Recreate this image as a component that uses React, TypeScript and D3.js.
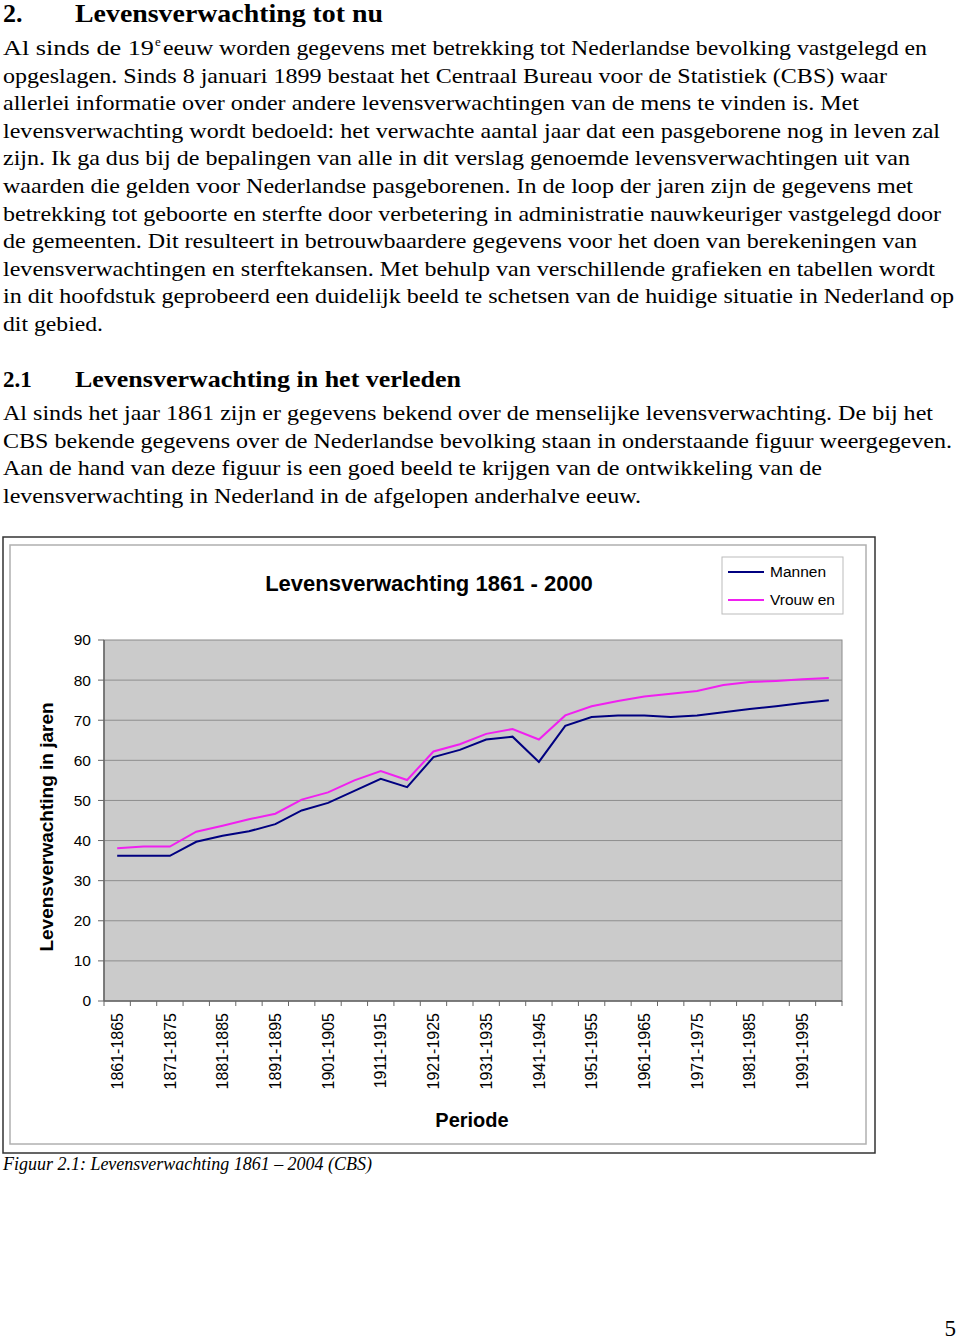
import React from "react";
import * as d3 from "d3";

// ---------- data ----------
const periods = [
  "1861-1865", "1866-1870", "1871-1875", "1876-1880", "1881-1885", "1886-1890",
  "1891-1895", "1896-1900", "1901-1905", "1906-1910", "1911-1915", "1916-1920",
  "1921-1925", "1926-1930", "1931-1935", "1936-1940", "1941-1945", "1946-1950",
  "1951-1955", "1956-1960", "1961-1965", "1966-1970", "1971-1975", "1976-1980",
  "1981-1985", "1986-1990", "1991-1995", "1996-2000",
];
const mannen = [
  36.2, 36.2, 36.2, 39.7, 41.2, 42.3, 44.1, 47.5, 49.4, 52.4, 55.4, 53.3, 60.8, 62.6,
  65.2, 65.9, 59.6, 68.6, 70.8, 71.2, 71.2, 70.8, 71.2, 72.0, 72.8, 73.5, 74.3, 75.0,
];
const vrouwen = [
  38.1, 38.5, 38.5, 42.2, 43.7, 45.3, 46.7, 50.2, 52.0, 55.0, 57.3, 55.1, 62.2, 64.0,
  66.6, 67.8, 65.2, 71.2, 73.5, 74.8, 75.9, 76.6, 77.3, 78.8, 79.5, 79.8, 80.2, 80.5,
];
const yTicks = [0, 10, 20, 30, 40, 50, 60, 70, 80, 90];
const seriesNames = ["Mannen", "Vrouw en"];
const chartTitle = "Levensverwachting 1861 - 2000";
const yTitle = "Levensverwachting in jaren";
const xTitle = "Periode";

// ---------- page text ----------
const para1 = [
  { t: "opgeslagen. Sinds 8 januari 1899 bestaat het Centraal Bureau voor de Statistiek (CBS) waar", w: 884 },
  { t: "allerlei informatie over onder andere levensverwachtingen van de mens te vinden is. Met", w: 856 },
  { t: "levensverwachting wordt bedoeld: het verwachte aantal jaar dat een pasgeborene nog in leven zal", w: 937 },
  { t: "zijn. Ik ga dus bij de bepalingen van alle in dit verslag genoemde levensverwachtingen uit van", w: 907 },
  { t: "waarden die gelden voor Nederlandse pasgeborenen. In de loop der jaren zijn de gegevens met", w: 910 },
  { t: "betrekking tot geboorte en sterfte door verbetering in administratie nauwkeuriger vastgelegd door", w: 938 },
  { t: "de gemeenten. Dit resulteert in betrouwbaardere gegevens voor het doen van berekeningen van", w: 914 },
  { t: "levensverwachtingen en sterftekansen. Met behulp van verschillende grafieken en tabellen wordt", w: 932 },
  { t: "in dit hoofdstuk geprobeerd een duidelijk beeld te schetsen van de huidige situatie in Nederland op", w: 951 },
  { t: "dit gebied.", w: 100 },
];
const para2 = [
  { t: "Al sinds het jaar 1861 zijn er gegevens bekend over de menselijke levensverwachting. De bij het", w: 930 },
  { t: "CBS bekende gegevens over de Nederlandse bevolking staan in onderstaande figuur weergegeven.", w: 949 },
  { t: "Aan de hand van deze figuur is een goed beeld te krijgen van de ontwikkeling van de", w: 819 },
  { t: "levensverwachting in Nederland in de afgelopen anderhalve eeuw.", w: 638 },
];

const SERIF = "'Liberation Serif', 'Times New Roman', serif";
const SANS = "'Liberation Sans', Arial, sans-serif";
const BODY = 21.5;

export default function App() {
  const plot = { left: 104, right: 842, top: 640, bottom: 1001 };
  const x = d3.scaleBand<string>().domain(periods).range([plot.left, plot.right]);
  const y = d3.scaleLinear().domain([0, 90]).range([plot.bottom, plot.top]);
  const cx = (p: string) => (x(p) as number) + x.bandwidth() / 2;
  const line = d3
    .line<number>()
    .x((_, i) => cx(periods[i]))
    .y((d) => y(d));

  const colors = ["#000080", "#f020f0"];
  const bounds = periods.map((p) => x(p) as number).concat([plot.right]);

  const lh = 27.6;
  return (
    <svg
      width={960}
      height={1342}
      style={{ position: "absolute", left: 0, top: 0, background: "#fff" }}
    >
      {/* Heading */}
      <g fontFamily={SERIF} fill="#000">
        <text x={3} y={22} fontSize={26} fontWeight="bold">2.</text>
        <text x={75} y={22} fontSize={26} fontWeight="bold" textLength={308} lengthAdjust="spacingAndGlyphs">
          Levensverwachting tot nu
        </text>
        <text x={3} y={55} fontSize={BODY} textLength={151} lengthAdjust="spacingAndGlyphs">Al sinds de 19</text>
        <text x={155} y={46} fontSize={13}>e</text>
        <text x={163} y={55} fontSize={BODY} textLength={764} lengthAdjust="spacingAndGlyphs">
          eeuw worden gegevens met betrekking tot Nederlandse bevolking vastgelegd en
        </text>
        {para1.map((l, i) => (
          <text key={i} x={3} y={55 + lh * (i + 1)} fontSize={BODY} textLength={l.w} lengthAdjust="spacingAndGlyphs">
            {l.t}
          </text>
        ))}
        <text x={3} y={387} fontSize={23} fontWeight="bold">2.1</text>
        <text x={75} y={387} fontSize={23} fontWeight="bold" textLength={386} lengthAdjust="spacingAndGlyphs">
          Levensverwachting in het verleden
        </text>
        {para2.map((l, i) => (
          <text key={i} x={3} y={420 + lh * i} fontSize={BODY} textLength={l.w} lengthAdjust="spacingAndGlyphs">
            {l.t}
          </text>
        ))}
        <text x={3} y={1170} fontSize={18} fontStyle="italic" textLength={369} lengthAdjust="spacingAndGlyphs">
          Figuur 2.1: Levensverwachting 1861 – 2004 (CBS)
        </text>
        <text x={956} y={1336} fontSize={23} textAnchor="end">5</text>
      </g>

      {/* Chart frame */}
      <rect x={3} y={537} width={872} height={616} fill="#fff" stroke="#333" strokeWidth={1.5} />
      <rect x={10} y={545} width={856} height={599} fill="#fff" stroke="#b0b0b0" strokeWidth={1.5} />

      {/* Plot area */}
      <rect
        x={plot.left}
        y={plot.top}
        width={plot.right - plot.left}
        height={plot.bottom - plot.top}
        fill="#cbcbcb"
        stroke="#8a8a8a"
        strokeWidth={1}
      />
      {yTicks.filter((t) => t > 0 && t < 90).map((t) => (
        <line key={t} x1={plot.left} x2={plot.right} y1={y(t)} y2={y(t)} stroke="#8e8e8e" strokeWidth={1} />
      ))}
      {/* axes */}
      <line x1={plot.left} x2={plot.left} y1={plot.top} y2={plot.bottom} stroke="#666" strokeWidth={1.5} />
      <line x1={plot.left} x2={plot.right} y1={plot.bottom} y2={plot.bottom} stroke="#666" strokeWidth={1.5} />
      {yTicks.map((t) => (
        <g key={t}>
          <line x1={plot.left - 6} x2={plot.left} y1={y(t)} y2={y(t)} stroke="#666" strokeWidth={1} />
          <text x={91} y={y(t)} dy="0.35em" textAnchor="end" fontFamily={SANS} fontSize={15.5} fill="#000">
            {t}
          </text>
        </g>
      ))}
      {bounds.map((b, i) => (
        <line key={i} x1={b} x2={b} y1={plot.bottom} y2={plot.bottom + 5} stroke="#666" strokeWidth={1} />
      ))}
      {periods.map((p, i) =>
        i % 2 === 0 ? (
          <text
            key={p}
            transform={`translate(${cx(p)},1013) rotate(-90)`}
            dy="0.35em"
            textAnchor="end"
            fontFamily={SANS}
            fontSize={16}
            fill="#000"
          >
            {p}
          </text>
        ) : null
      )}

      {/* Lines */}
      <path d={line(mannen) || ""} fill="none" stroke={colors[0]} strokeWidth={2} />
      <path d={line(vrouwen) || ""} fill="none" stroke={colors[1]} strokeWidth={2} />

      {/* Titles */}
      <text x={429} y={591} textAnchor="middle" fontFamily={SANS} fontSize={22} fontWeight="bold">
        {chartTitle}
      </text>
      <text
        transform="translate(53,827) rotate(-90)"
        textAnchor="middle"
        fontFamily={SANS}
        fontSize={19}
        fontWeight="bold"
      >
        {yTitle}
      </text>
      <text x={472} y={1127} textAnchor="middle" fontFamily={SANS} fontSize={20} fontWeight="bold">
        {xTitle}
      </text>

      {/* Legend */}
      <rect x={722} y={557} width={121} height={57} fill="#fff" stroke="#bbb" strokeWidth={1} />
      {seriesNames.map((n, i) => (
        <g key={n}>
          <line x1={728} x2={764} y1={572 + i * 28} y2={572 + i * 28} stroke={colors[i]} strokeWidth={2} />
          <text x={770} y={572 + i * 28} dy="0.35em" fontFamily={SANS} fontSize={15.5} fill="#000">
            {n}
          </text>
        </g>
      ))}
    </svg>
  );
}
